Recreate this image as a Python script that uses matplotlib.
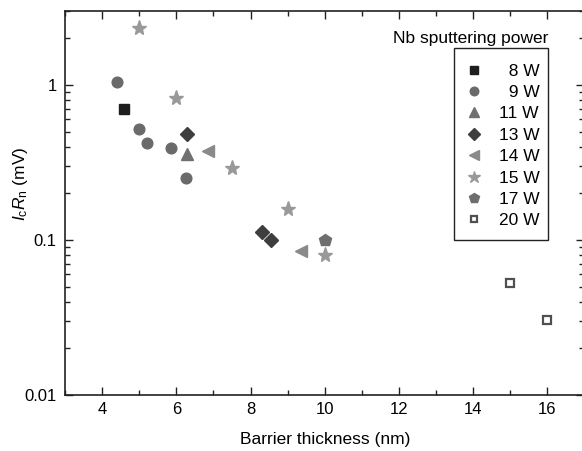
import matplotlib
matplotlib.use("Agg")
import matplotlib.pyplot as plt
from matplotlib.ticker import MultipleLocator, LogLocator, NullFormatter
from matplotlib.lines import Line2D
from matplotlib.patches import Rectangle

plt.rcParams['font.family'] = ['Liberation Sans', 'DejaVu Sans']
plt.rcParams['mathtext.fontset'] = 'custom'
plt.rcParams['mathtext.rm'] = 'Liberation Sans'
plt.rcParams['mathtext.it'] = 'Liberation Sans:italic'

# Data: barrier thickness (nm) and IcRn (mV) per Nb sputtering power
labels = ['8 W', '9 W', '11 W', '13 W', '14 W', '15 W', '17 W', '20 W']
x_8W = [4.6]
y_8W = [0.70]
x_9W = [4.4, 5.0, 5.2, 5.85, 6.25]
y_9W = [1.04, 0.52, 0.42, 0.39, 0.25]
x_11W = [6.3]
y_11W = [0.36]
x_13W = [6.3, 8.3, 8.55]
y_13W = [0.48, 0.112, 0.10]
x_14W = [6.85, 9.35]
y_14W = [0.375, 0.085]
x_15W = [5.0, 6.0, 7.5, 9.0, 10.0]
y_15W = [2.32, 0.83, 0.29, 0.158, 0.080]
x_17W = [10.0]
y_17W = [0.10]
x_20W = [15.0, 16.0]
y_20W = [0.053, 0.0305]

xs = [x_8W, x_9W, x_11W, x_13W, x_14W, x_15W, x_17W, x_20W]
ys = [y_8W, y_9W, y_11W, y_13W, y_14W, y_15W, y_17W, y_20W]

styles = [
    dict(marker='s', ms=7.4, mfc='#1e1e1e', mec='#1e1e1e'),
    dict(marker='o', ms=7.7, mfc='#6a6a6a', mec='#6a6a6a'),
    dict(marker='^', ms=9.3, mfc='#707070', mec='#707070'),
    dict(marker='D', ms=7.2, mfc='#3e3e3e', mec='#3e3e3e'),
    dict(marker='<', ms=9.0, mfc='#8a8a8a', mec='#8a8a8a'),
    dict(marker='*', ms=11.0, mfc='#999999', mec='#999999'),
    dict(marker='p', ms=9.0, mfc='#6e6e6e', mec='#6e6e6e'),
    dict(marker='s', ms=6.0, mfc='white', mec='#505050', mew=1.6),
]

fig = plt.figure(figsize=(5.82, 4.51), dpi=100)
ax = fig.add_axes([0.1117, 0.12417, 0.8924, 0.8514])

handles = []
for x, y, st, lab in zip(xs, ys, styles, labels):
    ax.plot(x, y, linestyle='none', **st)
    hst = dict(st)
    hst['ms'] = st['ms'] * 0.8
    handles.append(Line2D([], [], linestyle='none', **hst))

ax.set_yscale('log')
ax.set_xlim(3, 17)
ax.set_ylim(0.01, 3.0)

ax.set_xticks([4, 6, 8, 10, 12, 14, 16])
ax.xaxis.set_minor_locator(MultipleLocator(1))
ax.set_yticks([0.01, 0.1, 1])
ax.set_yticklabels(['0.01', '0.1', '1'])
ax.yaxis.set_minor_locator(LogLocator(base=10, subs=range(2, 10)))
ax.yaxis.set_minor_formatter(NullFormatter())

ax.tick_params(which='both', direction='in', top=True, right=True,
               labelsize=12, width=1.0, color='#222222')
ax.tick_params(which='major', length=6)
ax.tick_params(which='minor', length=3.5)
ax.tick_params(axis='x', pad=5)
ax.tick_params(axis='y', pad=6)

for sp in ax.spines.values():
    sp.set_linewidth(1.2)
    sp.set_color('#222222')

ax.set_xlabel('Barrier thickness (nm)', fontsize=12.5)
ax.set_ylabel(r'$I_{\mathrm{c}}R_{\mathrm{n}}$ (mV)', fontsize=12.5)
ax.yaxis.set_label_coords(-0.067, 0.55)
ax.xaxis.set_label_coords(0.5, -0.097)

disp_labels = ['  8 W', '  9 W', '11 W', '13 W', '14 W', '15 W', '17 W', '20 W']
leg = ax.legend(handles, disp_labels, loc='upper right',
                bbox_to_anchor=(0.9145, 0.8633), borderaxespad=0,
                fontsize=12.5, frameon=False,
                handlelength=1.0, handletextpad=0.94,
                borderpad=0.0, labelspacing=0.36)

# legend frame drawn as a separate box
ax.add_patch(Rectangle((0.749, 0.4036), 0.930 - 0.749, 0.9036 - 0.4036,
                       transform=ax.transAxes, fill=False,
                       edgecolor='#222222', linewidth=1.0, zorder=5))

ax.text(0.930, 0.9297, 'Nb sputtering power', transform=ax.transAxes,
        ha='right', va='center', fontsize=12.5)

fig.savefig('out.png', dpi=100)
